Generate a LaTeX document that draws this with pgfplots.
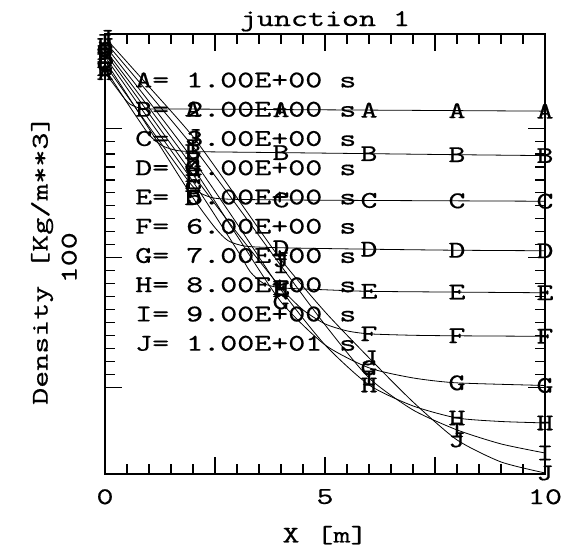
\documentclass[border=0pt]{standalone}
\usepackage{fontspec}
\usepackage{pgfplots}
\pgfplotsset{compat=1.18}
\newfontfamily\pfont{lmmono10-regular}[Extension=.otf, FakeStretch=1.35, FakeBold=0.5]
\newcommand{\pf}{\pfont\fontsize{24}{29.25}\selectfont}
\pgfplotsset{
  curve/.style={black, line width=0.8pt, no marks, smooth, tension=0.4},
  lab/.style={only marks, mark=text, text mark={#1}, text mark as node=true,
              text mark style={font=\pf, inner sep=0pt}},
}

\begin{document}
\begin{tikzpicture}
\path[use as bounding box] (0,0) rectangle (571pt,557pt);
\begin{axis}[
  at={(105pt,83pt)}, anchor=south west,
  scale only axis, width=440pt, height=440pt,
  xmin=0, xmax=10, ymin=83.32, ymax=117.26,
  clip=false,
  axis line style={line width=1.3pt},
  tick align=inside,
  xtick={0,2.5,5,7.5,10}, xticklabels={0,,5,,10},
  minor x tick num=4,
  ytick={90,100,110}, yticklabels={,100,},
  minor y tick num=9,
  major tick length=17pt, minor tick length=10pt,
  every tick/.style={line width=1.1pt, black},
  /pgf/number format/assume math mode=true,
  tick label style={font=\pf},
  xticklabel style={anchor=north, inner sep=0pt},
  xticklabel shift=15pt,
  yticklabel style={rotate=90, anchor=south, inner sep=0pt},
  yticklabel shift=28pt,
  title={junction 1},
  title style={font=\pf, at={(axis description cs:0.5,1.0045)}, anchor=base, inner sep=0pt},
  xlabel={X [m]},
  xlabel style={font=\pf, at={(axis description cs:0.5,-0.139)}, anchor=center},
  ylabel={Density [Kg/m**3]},
  ylabel style={font=\pf, at={(axis description cs:-0.143,0.486)}, anchor=center},
]
% A = 1 s
\addplot[curve] coordinates {(0,114.29) (0.5,112.05) (0.75,111.58) (1,111.48) (2,111.47) (4,111.43) (6,111.39) (8,111.35) (10,111.31)};
\addplot[lab=A] coordinates {(0,114.29) (2,111.47) (4,111.43) (6,111.39) (8,111.35) (10,111.31)};
% B = 2 s
\addplot[curve] coordinates {(0,114.59) (0.5,111.97) (1,109.50) (1.3,108.65) (1.6,108.30) (2,108.19) (4,108.11) (6,108.03) (8,107.95) (10,107.88)};
\addplot[lab=B] coordinates {(0,114.59) (2,108.19) (4,108.11) (6,108.03) (8,107.95) (10,107.88)};
% C = 3 s
\addplot[curve] coordinates {(0,114.90) (1,110.12) (2,105.48) (2.4,104.67) (2.8,104.52) (4,104.46) (6,104.42) (8,104.39) (10,104.36)};
\addplot[lab=C] coordinates {(0,114.90) (2,105.48) (4,104.46) (6,104.42) (8,104.39) (10,104.36)};
% D = 4 s
\addplot[curve] coordinates {(0,115.21) (1,109.96) (2,104.63) (2.5,102.32) (2.8,101.31) (3.2,100.89) (4,100.77) (6,100.66) (8,100.58) (10,100.54)};
\addplot[lab=D] coordinates {(0,115.21) (2,104.63) (4,100.77) (6,100.66) (8,100.58) (10,100.54)};
% E = 5 s
\addplot[curve] coordinates {(0,115.52) (1,110.66) (2,105.87) (3,100.62) (3.3,98.92) (3.6,98.03) (4,97.68) (5,97.53) (6,97.41) (8,97.35) (10,97.30)};
\addplot[lab=E] coordinates {(0,115.52) (2,105.87) (4,97.68) (6,97.41) (8,97.35) (10,97.30)};
% F = 6 s
\addplot[curve] coordinates {(0,115.83) (1,111.12) (2,106.41) (3,101.93) (4,97.68) (4.5,95.98) (5,94.90) (5.5,94.36) (6,94.13) (7,94.02) (8,93.98) (10,93.94)};
\addplot[lab=F] coordinates {(0,115.83) (2,106.41) (4,97.68) (6,94.13) (8,93.98) (10,93.94)};
% G = 7 s
\addplot[curve] coordinates {(0,116.06) (1,111.58) (2,106.95) (3,101.70) (4,96.60) (5,93.28) (6,91.51) (7,90.73) (8,90.35) (10,90.15)};
\addplot[lab=G] coordinates {(0,116.06) (2,106.95) (4,96.60) (6,91.51) (8,90.35) (10,90.15)};
% H = 8 s
\addplot[curve] coordinates {(0,116.37) (1,112.05) (2,107.57) (3,102.63) (4,97.53) (5,93.28) (6,90.19) (7,88.57) (8,87.64) (9,87.37) (10,87.26)};
\addplot[lab=H] coordinates {(0,116.37) (2,107.57) (4,97.53) (6,90.19) (8,87.64) (10,87.26)};
% I = 9 s
\addplot[curve] coordinates {(0,116.68) (1,112.66) (2,108.57) (3,104.02) (4,99.38) (5,94.83) (6,90.73) (7,88.26) (8,86.72) (9,85.64) (10,84.94)};
\addplot[lab=I] coordinates {(0,116.68) (2,108.57) (4,99.38) (6,90.73) (8,86.72) (10,84.94)};
% J = 10 s
\addplot[curve] coordinates {(0,116.99) (1,113.20) (2,109.34) (3,104.63) (4,99.85) (5,95.83) (6,92.28) (7,88.88) (8,85.95) (9,84.25) (10,83.40)};
\addplot[lab=J] coordinates {(0,116.99) (2,109.34) (4,99.85) (6,92.28) (8,85.95) (10,83.40)};
\end{axis}
% legend text, px (x, y from top) -> (x pt, 557-y pt)
\begin{scope}[every node/.style={anchor=base west, inner sep=0pt, font=\pf}]
\node at (135pt,469.6pt) {A= 1.00E+00 s};
\node at (135pt,440.35pt) {B= 2.00E+00 s};
\node at (135pt,411.1pt) {C= 3.00E+00 s};
\node at (135pt,381.85pt) {D= 4.00E+00 s};
\node at (135pt,352.6pt) {E= 5.00E+00 s};
\node at (135pt,323.35pt) {F= 6.00E+00 s};
\node at (135pt,294.1pt) {G= 7.00E+00 s};
\node at (135pt,264.85pt) {H= 8.00E+00 s};
\node at (135pt,235.6pt) {I= 9.00E+00 s};
\node at (135pt,206.35pt) {J= 1.00E+01 s};
\end{scope}
\end{tikzpicture}
\end{document}
